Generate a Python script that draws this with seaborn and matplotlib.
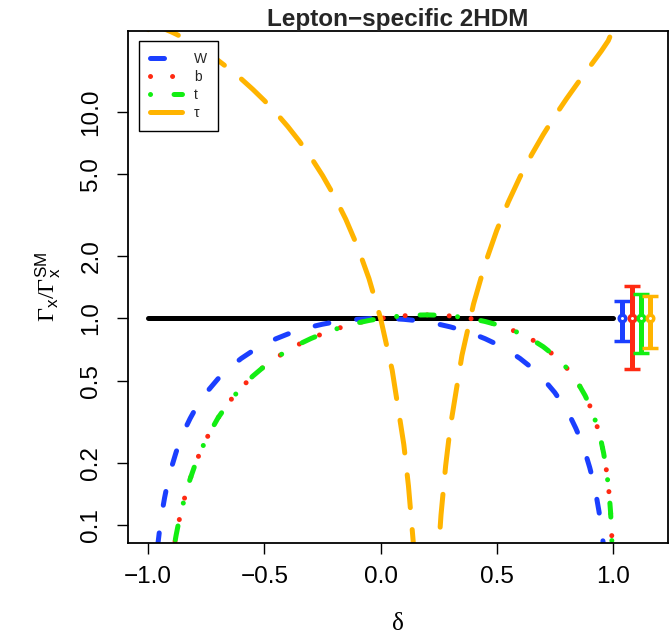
import numpy as np
import pandas as pd
import matplotlib
matplotlib.use("Agg")
import matplotlib.pyplot as plt
from matplotlib.ticker import NullLocator
import seaborn as sns

# ---------------- data ----------------
delta_W = [-0.96, -0.95, -0.94, -0.93, -0.92, -0.91, -0.90, -0.88, -0.86, -0.84, -0.82,
           -0.80, -0.75, -0.70, -0.65, -0.60, -0.55, -0.50, -0.45, -0.40, -0.35, -0.30,
           -0.25, -0.20, -0.15, -0.10, -0.05, 0.00, 0.05, 0.10, 0.15, 0.20, 0.25, 0.30,
           0.35, 0.40, 0.45, 0.50, 0.55, 0.60, 0.65, 0.70, 0.75, 0.80, 0.82, 0.84, 0.86,
           0.88, 0.90, 0.91, 0.92, 0.93, 0.94, 0.95, 0.96]
ratio_W = [0.0784, 0.0975, 0.1164, 0.1351, 0.1536, 0.1719, 0.19, 0.2256, 0.2604, 0.2944, 0.3276,
           0.36, 0.4375, 0.51, 0.5775, 0.64, 0.6975, 0.75, 0.7975, 0.84, 0.8775, 0.91,
           0.9375, 0.96, 0.9775, 0.99, 0.9975, 1.0, 0.9975, 0.99, 0.9775, 0.96, 0.9375, 0.91,
           0.8775, 0.84, 0.7975, 0.75, 0.6975, 0.64, 0.5775, 0.51, 0.4375, 0.36, 0.3276, 0.2944, 0.2604,
           0.2256, 0.19, 0.1719, 0.1536, 0.1351, 0.1164, 0.0975, 0.0784]

delta_q = [-0.90, -0.89, -0.88, -0.87, -0.86, -0.84, -0.82, -0.80, -0.78, -0.75, -0.70,
           -0.65, -0.60, -0.55, -0.50, -0.45, -0.40, -0.35, -0.30, -0.25, -0.20, -0.15,
           -0.10, -0.05, 0.00, 0.05, 0.10, 0.15, 0.20, 0.25, 0.30, 0.35, 0.40, 0.45,
           0.50, 0.55, 0.60, 0.65, 0.70, 0.75, 0.80, 0.85, 0.88, 0.90, 0.92, 0.94,
           0.95, 0.96, 0.97, 0.98, 0.985, 0.99, 0.995, 1.00]
ratio_b = [0.0655, 0.0773, 0.0894, 0.1018, 0.1144, 0.1403, 0.1668, 0.1936, 0.2207, 0.2615, 0.3296,
           0.3968, 0.4624, 0.5259, 0.5868, 0.6448, 0.6998, 0.7512, 0.7991, 0.8431, 0.8832, 0.9191,
           0.9506, 0.9776, 1.0, 1.0176, 1.0302, 1.0378, 1.0400, 1.0367, 1.0280, 1.0134, 0.9930, 0.9663,
           0.9332, 0.8934, 0.8464, 0.7919, 0.7295, 0.6584, 0.5776, 0.4855, 0.4238, 0.3793, 0.3317, 0.2800,
           0.2522, 0.2228, 0.1911, 0.1560, 0.1366, 0.1150, 0.0893, 0.04]
ratio_t = [0.0655, 0.0773, 0.0894, 0.1018, 0.1144, 0.1403, 0.1668, 0.1936, 0.2207, 0.2615, 0.3296,
           0.3968, 0.4624, 0.5259, 0.5868, 0.6448, 0.6998, 0.7512, 0.7991, 0.8431, 0.8832, 0.9191,
           0.9506, 0.9776, 1.0, 1.0176, 1.0302, 1.0378, 1.0400, 1.0367, 1.0280, 1.0134, 0.9930, 0.9663,
           0.9332, 0.8934, 0.8464, 0.7919, 0.7295, 0.6584, 0.5776, 0.4855, 0.4238, 0.3793, 0.3317, 0.2800,
           0.2522, 0.2228, 0.1911, 0.1560, 0.1366, 0.1150, 0.0893, 0.04]

delta_tau = [-1.00, -0.98, -0.95, -0.93, -0.90, -0.88, -0.85, -0.80, -0.75, -0.70, -0.65,
             -0.60, -0.55, -0.50, -0.45, -0.40, -0.35, -0.30, -0.25, -0.20, -0.15, -0.10,
             -0.05, 0.00, 0.05, 0.10, 0.12, 0.14, 0.16, 0.18, 0.20, 0.22, 0.24, 0.26,
             0.28, 0.30, 0.35, 0.40, 0.45, 0.50, 0.55, 0.60, 0.65, 0.70, 0.75, 0.80,
             0.85, 0.90, 0.95, 0.98, 1.00]
ratio_tau = [25.0, 26.0, 25.63, 25.18, 24.36, 23.77, 22.82, 21.16, 19.46, 17.76, 16.08,
             14.44, 12.85, 11.33, 9.878, 8.506, 7.218, 6.022, 4.920, 3.920, 3.023, 2.235,
             1.559, 1.0, 0.5606, 0.2450, 0.1543, 0.0842, 0.0350, 0.0070, 0.0004, 0.0155, 0.0525, 0.1118,
             0.1936, 0.2982, 0.6614, 1.174, 1.841, 2.670, 3.666, 4.84, 6.201, 7.761, 9.539, 11.56,
             13.86, 16.52, 19.69, 22.10, 25.0]

sm_delta = [-1.0, 1.0]
sm_ratio = [1.0, 1.0]

# measured channels (error bars at the right)
meas_labels = ["W", "b", "t", "\u03c4"]
meas_x = [1.04, 1.08, 1.12, 1.16]
meas_center = [1.0, 1.0, 1.0, 1.0]
meas_low = [0.78, 0.57, 0.68, 0.72]
meas_high = [1.21, 1.43, 1.32, 1.28]

colors = {"W": "#1b3fff", "b": "#ff2a12", "t": "#12ee12", "\u03c4": "#ffb400"}

# ---------------- styling ----------------
sns.set_theme(style="ticks")
plt.rcParams['font.family'] = ['Liberation Sans', 'DejaVu Sans']
plt.rcParams['mathtext.fontset'] = 'custom'
plt.rcParams['mathtext.rm'] = 'Liberation Serif'
plt.rcParams['mathtext.sf'] = 'Liberation Sans'
plt.rcParams['mathtext.it'] = 'Liberation Serif:italic'

PX = 0.72          # points per pixel at dpi 100
LW = 5 * PX

fig = plt.figure(figsize=(6.71, 6.36), dpi=100)
ax = fig.add_axes([0.1912, 0.1467, 0.8043, 0.8050])
ax.set_yscale('log')
ax.set_xlim(-1.086, 1.237)
ax.set_ylim(0.0821, 24.7)

# SM reference line
sns.lineplot(x=sm_delta, y=sm_ratio, ax=ax, color="black", linewidth=LW,
             sort=False, estimator=None, legend=False)

def curve(dx, dy, col, pattern):
    sns.lineplot(x=dx, y=dy, ax=ax, color=col, linewidth=LW,
                 sort=False, estimator=None, legend=False)
    ln = ax.lines[-1]
    ln.set_linestyle((0, pattern))
    ln.set_dash_capstyle('round')
    ln.set_solid_capstyle('round')
    return ln

lW = curve(delta_W, ratio_W, colors["W"], (2.8, 5.6))
lb = curve(delta_q, ratio_b, colors["b"], (0.01, 4.4))
lt = curve(delta_q, ratio_t, colors["t"], (0.01, 4.7, 2.8, 4.7))
ltau = curve(delta_tau, ratio_tau, colors["\u03c4"], (6.6, 4.4))

for lab, x, c, lo, hi in zip(meas_labels, meas_x, meas_center, meas_low, meas_high):
    col = colors[lab]
    eb = ax.errorbar([x], [c], yerr=[[c - lo], [hi - c]], fmt='o', color=col, ecolor=col,
                     elinewidth=LW, capsize=5.8, capthick=LW,
                     ms=4.7, mfc='white', mec=col, mew=2.5, zorder=5)

# axes / ticks
yt = [0.1, 0.2, 0.5, 1.0, 2.0, 5.0, 10.0]
ax.set_yticks(yt)
ax.set_yticklabels(["0.1", "0.2", "0.5", "1.0", "2.0", "5.0", "10.0"],
                   rotation=90, va='center')
ax.yaxis.set_minor_locator(NullLocator())
xt = [-1.0, -0.5, 0.0, 0.5, 1.0]
ax.set_xticks(xt)
ax.set_xticklabels(["\u22121.0", "\u22120.5", "0.0", "0.5", "1.0"])
ax.tick_params(axis='both', which='major', direction='out', length=11 * PX,
               width=1.4 * PX, color='black', labelsize=17.5, labelcolor='black')
ax.tick_params(axis='x', pad=12 * PX)
ax.tick_params(axis='y', pad=15 * PX)
for s in ax.spines.values():
    s.set_visible(True)
    s.set_color('black')
    s.set_linewidth(1.8 * PX)
ax.grid(False)

ax.set_title("Lepton\u2212specific 2HDM", fontsize=17.5, fontweight='bold', pad=2)
ax.set_ylabel(r'$\Gamma_{\mathsf{x}}/\Gamma_{\mathsf{x}}^{\mathsf{SM}}$', fontsize=17.5,
              va='center', color='black')
ax.yaxis.set_label_coords(-0.1488, 0.5)
ax.set_xlabel("\u03b4", fontsize=18, family=['Liberation Serif', 'DejaVu Serif'],
              va='center', color='black')
ax.xaxis.set_label_coords(0.5, -0.158)

leg = ax.legend(handles=[lW, lb, lt, ltau], labels=meas_labels, loc='upper left',
                bbox_to_anchor=(0.0198, 0.9805), borderaxespad=0, fontsize=10,
                frameon=True, fancybox=False, framealpha=1, edgecolor='black',
                handlelength=2.3, handletextpad=0.85, labelspacing=0.3, borderpad=0.8)
leg.get_frame().set_linewidth(1.4 * PX)

fig.savefig("out.png", dpi=100)
